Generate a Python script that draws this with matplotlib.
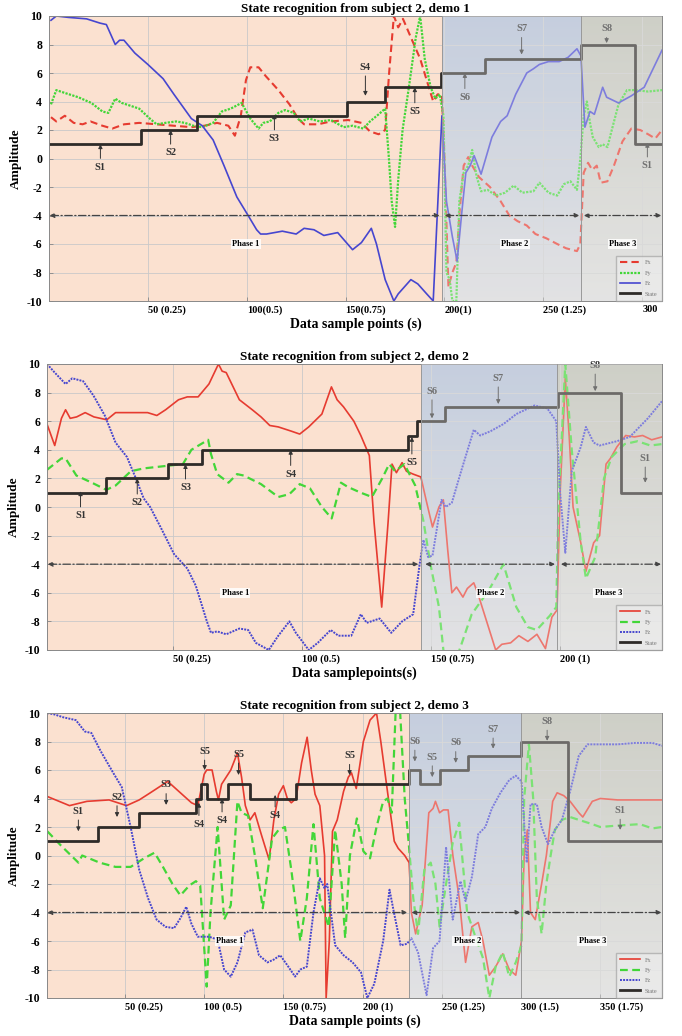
import numpy as np
import matplotlib
matplotlib.use("Agg")
import matplotlib.pyplot as plt
from matplotlib.transforms import ScaledTranslation

plt.rcParams['font.family'] = ['Liberation Serif', 'DejaVu Serif']
plt.rcParams['font.weight'] = 'bold'
plt.rcParams['axes.titleweight'] = 'bold'
plt.rcParams['axes.labelweight'] = 'bold'

# ---------------- demo 1 ----------------
d1_title = "State recognition from subject 2, demo 1"
d1_xlabel = "Data sample points (s)"
d1_xlim = (0, 310)
d1_phase = [198.7, 269]
d1_xticks = [50, 100, 150, 200, 250, 300]
d1_xticklabels = ["50 (0.25)", "100(0.5)", "150(0.75)", "200(1)", "250 (1.25)", "300"]
d1_fx_x = [1, 3.7, 8, 12.5, 17, 21, 27, 32, 38, 45.6, 54.4, 63, 72, 78.6, 85, 90.7, 94, 97, 99.6, 101.8,
           106, 109.5, 116, 121.6, 126, 129, 136, 142.5, 151.3, 158, 162.3, 166.7, 170, 172, 174.4, 176.6,
           179, 183, 187.7, 191, 194.3, 196.5, 198.7, 200, 202, 204, 206, 207.5, 209.7, 212, 214, 217.4,
           223, 228.4, 232.8, 237, 241.6, 246, 251.5, 257, 261.5, 267, 268.7, 270.4, 272.6, 274.7, 277,
           279, 282.4, 285.7, 290, 294.5, 299, 303, 306.6, 310]
d1_fx_y = [2.9, 2.6, 3.0, 2.5, 2.4, 2.6, 2.3, 2.1, 2.4, 2.5, 2.4, 2.3, 2.2, 2.3, 2.5, 2.3, 1.6, 3.0, 5.5, 6.4,
           6.4, 5.8, 4.8, 3.8, 2.8, 2.4, 2.4, 2.6, 2.7, 2.5, 1.9, 1.7, 2.0, 6.0, 10.0, 9.2,
           9.8, 8.5, 7.0, 5.5, 4.0, 4.5, 4.5, 0.0, -9.0, -8.0, -7.3, -4.0, -0.5, 0.1, -0.5, -1.3,
           -2.0, -3.0, -4.0, -4.4, -4.7, -5.3, -5.6, -6.0, -6.3, -6.5, -6.0, -1.0, -0.3, -0.8, -0.5,
           -1.7, -1.6, -0.5, 1.2, 2.1, 2.0, 1.7, 1.4, 2.0]
d1_fy_x = [1, 3.7, 8, 14.8, 21.4, 27, 30, 33.5, 36.8, 45.6, 51, 54.4, 58.8, 64.3, 68.7, 73, 77.5, 83, 87.4,
           91.9, 97.4, 101.8, 106, 108.4, 111.7, 116, 119.4, 123.8, 127, 131.5, 137, 142.5, 149, 153.5,
           159, 162.3, 166.7, 170, 171.9, 173.3, 175, 176.6, 178.8, 182, 185.5, 187.7, 190, 193, 195.4,
           197.6, 199.5, 201, 202.6, 204, 206, 207.5, 209.7, 212, 214, 216.3, 218.5, 221.8, 226, 230.6,
           235, 239.4, 245, 248, 252.6, 257, 260.4, 263.7, 267, 268.7, 270.4, 272, 273.6, 275, 278, 280,
           282.4, 284.6, 288, 292.3, 296.7, 303, 310]
d1_fy_y = [3.8, 4.8, 4.6, 4.3, 3.9, 3.3, 3.2, 4.2, 3.9, 3.5, 2.8, 2.4, 2.5, 2.6, 2.5, 2.3, 2.2, 2.5, 3.3,
           3.5, 3.9, 2.8, 2.1, 2.5, 2.6, 3.2, 3.4, 3.2, 2.6, 2.8, 2.6, 2.7, 2.2, 2.3,
           2.1, 2.6, 3.1, 3.5, 0.0, -3.0, -4.8, -1.5, 2.0, 5.0, 8.5, 10.0, 7.0, 5.0, 4.2,
           4.5, 3.0, -8.0, -8.5, -10.0, -10.0, -3.0, -1.0, -0.5, 0.6, -1.3, -2.3, -2.2, -2.6, -2.4,
           -1.9, -2.4, -2.3, -1.7, -2.4, -2.6, -1.8, -1.6, -2.2, 0.0, 3.0, 4.0, 2.5, 1.5, 0.8, 1.0,
           0.8, 2.0, 3.8, 4.8, 4.8, 4.7, 4.8]
d1_fz_x = [1, 3.7, 10, 19, 25.8, 29, 33.5, 35.7, 37.9, 43.4, 50, 57.7, 63.2, 72, 77.5, 83, 88.5, 95, 100.7,
           105, 107, 110, 118, 125, 129, 134, 139, 146, 153.5, 158, 163, 165.6, 170, 174.4, 176.6, 183,
           186.5, 191, 194.3, 198.7, 201, 204, 206.4, 208.6, 210.8, 213, 215, 218.5, 224, 228.4, 231.7,
           236, 241.6, 245, 248, 252.6, 258, 262.5, 267, 269, 271, 273.6, 275.8, 280, 282, 288, 294.5,
           301, 310]
d1_fz_y = [9.7, 10.0, 9.9, 9.8, 9.5, 9.4, 8.0, 8.3, 8.3, 7.4, 6.6, 5.6, 4.5, 2.8, 2.3, 1.3, -0.5, -2.7, -4.0,
           -5.0, -5.3, -5.3, -5.1, -5.3, -4.9, -5.0, -5.4, -5.2, -6.4, -5.9, -4.9, -6.0, -8.5, -10.0, -9.5, -8.5,
           -8.8, -9.5, -10.0, 3.0, -3.0, -5.5, -7.2, -4.0, -1.0, -0.5, 0.2, -1.1, 1.5, 2.6, 3.0,
           4.5, 6.0, 6.3, 6.6, 6.8, 6.8, 7.1, 7.7, 7.2, 2.2, 3.3, 3.1, 5.0, 4.3, 3.9, 4.4,
           5.0, 7.6]
d1_state_x = [0, 46.7, 74.7, 150.7, 170, 198, 220.7, 269, 296.3, 310]
d1_state_lv = [1, 2, 3, 4, 5, 6, 7, 8, 1]
d1_marks = [("S1", 26, -0.6, 1.0), ("S2", 61.5, 0.4, 2.0), ("S3", 114, 1.4, 3.1),
            ("S4", 160, 6.4, 4.4), ("S5", 185, 3.3, 5.0), ("S6", 210.3, 4.3, 6.0),
            ("S7", 239, 9.1, 7.3), ("S8", 282, 9.1, 8.1), ("S1", 302.6, -0.5, 1.1)]
d1_phase_lab = [99.5, 235.7, 290]

# ---------------- demo 2 ----------------
d2_title = "State recognition from subject 2, demo 2"
d2_xlabel = "Data samplepoints(s)"
d2_xlim = (1, 239.5)
d2_phase = [146.2, 198.8]
d2_xticks = [50, 100, 150, 200]
d2_xticklabels = ["50 (0.25)", "100 (0.5)", "150 (0.75)", "200 (1)"]
d2_fx_x = [1.2, 4, 6.6, 8.2, 10, 12.5, 15.8, 19.2, 24.2, 27.6, 33.5, 40, 43.6, 47, 52, 55.4, 59.6, 63.8, 67.5,
           68.9, 70.5, 75.6, 80.6, 84, 87.4, 90.7, 95.8, 99, 102.5, 107.6, 111.3, 113.5, 116, 120, 122.7,
           126, 127.8, 130.8, 133.3, 134.8, 136.5, 138.7, 140.4, 143, 146, 148, 150.5, 153, 154.7, 156.4,
           158, 159.8, 162.3, 164, 166.5, 168, 171.5, 175, 177.4, 180.8, 184, 187.5, 191, 194.3, 196.8,
           198.8, 200, 202, 203.5, 205, 208, 210, 213, 215.3, 217.8, 219.5, 222, 225.4, 228.8, 232, 235.5,
           239.5]
d2_fx_y = [5.7, 4.3, 6.2, 6.8, 6.2, 6.3, 6.6, 6.3, 6.1, 6.6, 6.6, 6.6, 6.4, 6.8, 7.5, 7.7, 7.7, 8.6, 10.0,
           9.5, 9.4, 7.5, 6.8, 6.3, 5.7, 5.6, 5.3, 5.1, 5.6, 6.5, 8.4, 7.5, 7.0, 6.0, 5.0,
           3.6, -1.0, -7.0, -1.0, 3.0, 2.4, 3.1, 2.5, 2.3, 2.1, 0.5, -1.4, 0.0, 0.5, -3.0,
           -6.0, -5.6, -6.3, -5.7, -5.3, -6.0, -8.0, -10.0, -9.6, -9.5, -9.0, -9.4, -8.9, -9.9, -7.7,
           -7.2, 1.0, 9.0, 5.0, 0.0, -2.5, -4.5, -2.5, -2.0, 3.0, 3.4, 4.2, 5.0, 4.9, 5.0, 4.7,
           4.9]
d2_fy_x = [1, 6.6, 8.2, 12.4, 18.4, 24, 27.6, 33.5, 38.5, 48.6, 53.7, 57, 63.5, 64.6, 67, 71.4, 74.7, 77.3,
           84, 90.7, 95, 99, 103, 107.6, 111.4, 115, 117.7, 122.7, 127, 131, 133.7, 136, 139.6, 143.8,
           147, 149.7, 153, 155, 160, 165.7, 172.4, 178, 183, 187.5, 190.9, 196, 198.5, 199.3, 202, 204.5,
           208, 210, 213.6, 217, 220, 225, 230, 235, 239.5]
d2_fy_y = [2.6, 3.4, 3.4, 2.2, 1.7, 1.2, 1.5, 2.5, 2.7, 2.9, 3.0, 4.0, 4.7, 3.7, 2.3, 1.7, 2.3, 2.2,
           1.6, 0.7, 0.9, 1.6, 1.3, 0.0, -0.8, 1.7, 1.4, 1.0, 0.7, 2.0, 3.0, 2.5, 3.0, 1.5,
           -1.0, -4.0, -7.0, -10.5, -10.5, -7.5, -5.8, -4.0, -7.0, -8.4, -8.6, -7.6, -7.0, 0.0, 10.0, 4.0,
           -2.5, -5.0, -3.5, 2.0, 3.5, 4.4, 4.6, 4.3, 4.4]
d2_fz_x = [1, 4, 8.2, 10.8, 15, 19, 23.4, 27.6, 32, 35, 38.5, 41, 45.3, 50.3, 55.4, 58.7, 63, 64.6, 67, 70.5,
           75.6, 79, 82, 87, 90.7, 95, 97.5, 102.5, 106, 111, 114, 119, 122.7, 125, 130, 134.5, 138.7,
           143, 145.5, 147, 148.8, 150.5, 154, 155.6, 158, 161.6, 166.5, 169, 173, 178, 183, 190, 195,
           198.5, 200, 202, 204.5, 208, 210, 213, 215.3, 222, 227, 234, 239.5]
d2_fz_y = [10.0, 9.4, 8.6, 9.0, 8.8, 7.8, 6.4, 4.5, 3.5, 2.2, 0.6, 0.0, -1.5, -3.3, -4.3, -5.5, -8.0, -8.8, -8.7, -8.9,
           -8.5, -8.6, -9.5, -10.0, -9.0, -8.0, -8.8, -10.0, -9.5, -8.6, -9.0, -9.0, -7.5, -8.1, -7.8, -8.8, -8.0,
           -7.5, -4.0, -2.3, -3.5, -3.4, 0.5, 0.0, 0.3, 2.5, 5.4, 5.0, 5.3, 5.8, 6.5, 7.1, 6.9,
           6.0, 1.0, -3.2, 2.5, 4.2, 5.6, 4.5, 4.3, 4.6, 4.9, 6.2, 7.4]
d2_state_x = [1, 24, 48, 61, 141, 144.5, 155.5, 199.2, 223.6, 239.5]
d2_state_lv = [1, 2, 3, 4, 5, 6, 7, 8, 1]
d2_marks = [("S1", 14, -0.6, 1.1), ("S2", 36, 0.3, 2.0), ("S3", 54.7, 1.35, 3.0),
            ("S4", 95.5, 2.3, 4.0), ("S5", 142.5, 3.1, 4.9), ("S6", 150.3, 8.1, 6.2),
            ("S7", 176, 9.0, 7.2), ("S8", 213.6, 9.9, 8.1), ("S1", 233, 3.4, 1.7)]
d2_phase_lab = [74, 173, 218.7]

# ---------------- demo 3 ----------------
d3_title = "State recognition from subject 2, demo 3"
d3_xlabel = "Data sample points (s)"
d3_xlim = (0.8, 389)
d3_phase = [229.4, 300.3]
d3_xticks = [50, 100, 150, 200, 250, 300, 350]
d3_xticklabels = ["50 (0.25)", "100 (0.5)", "150 (0.75)", "200 (1)", "250 (1.25)", "300 (1.5)", "350 (1.75)"]
d3_fx_x = [0.8, 15, 26, 40, 51, 59, 66, 77, 84, 92, 96, 100, 101.6, 105, 107.7, 109, 111, 116.8, 121, 123.6,
           126, 129, 132, 136, 141, 144, 147, 150, 152.5, 155, 158, 161.5, 165, 167.6, 170, 173, 176, 177,
           179, 181, 184, 188, 191, 193, 196, 200.5, 204.7, 208.8, 211.5, 215.7, 220, 222.5, 226.6, 229.4,
           230.8, 233.5, 237.6, 241.8, 244.5, 246, 248.6, 251, 254, 257, 261, 265, 269, 273, 276, 280,
           284, 288.5, 292.6, 296.7, 300.3, 302, 304, 306, 309, 313, 316, 318.7, 320, 322.8, 327, 331,
           336.5, 339, 345, 350, 361, 375, 389]
d3_fx_y = [4.15, 3.5, 3.8, 3.9, 3.5, 3.9, 4.4, 5.2, 4.5, 3.7, 3.5, 5.7, 6.0, 6.0, 4.5, 3.9, 5.0, 6.0, 7.2, 5.5,
           3.5, 2.5, 3.0, 1.5, -0.3, 2.5, 4.3, 4.9, 4.0, 3.7, 4.0, 6.5, 8.3, 6.0, 4.3, 3.5, 0.0, -10.0,
           -6.0, 1.7, 2.5, 4.5, 5.5, 5.8, 4.7, 8.0, 9.5, 10.0, 8.0, 4.5, 1.0, 0.5, 0.0, -0.5,
           -4.0, -5.5, -3.5, 3.0, 3.3, 3.8, 3.0, 3.2, 3.2, 0.0, -3.0, -7.5, -5.0, -4.7, -6.0, -8.4,
           -7.8, -6.9, -8.0, -8.4, -6.0, 0.0, 1.8, -4.0, -4.5, -2.0, 0.0, 2.5, 3.8, 4.4, 4.2, 3.8,
           3.0, 2.7, 3.8, 4.0, 3.9, 3.9, 3.9]
d3_fy_x = [1, 9.6, 20.6, 23, 34, 44, 53.6, 62, 68.7, 74, 80, 85, 90.7, 94.8, 97.5, 101.6, 104, 108.5, 112.6,
           116.8, 121, 123.6, 127.7, 132, 137, 142.9, 147, 151, 155, 160.7, 164.8, 169, 173, 178.6, 182.7,
           186.8, 189, 192, 196.4, 200.5, 204.7, 208.8, 213, 215.7, 218.4, 221, 223.5, 226.6, 229.4, 232,
           235, 239, 243, 246, 248.6, 252.7, 256.9, 261, 266, 270.6, 276, 280, 284, 288.5, 292.6, 296.7,
           300.3, 302, 305, 307.7, 310, 313, 316, 318.7, 321.4, 325.8, 331, 336.5, 345, 350, 361, 375,
           383, 389]
d3_fy_y = [1.7, 0.7, -0.5, 0.0, -0.5, -0.8, -0.8, -0.2, 0.2, -0.8, -2.0, -2.8, -2.1, -1.8, -2.1, -9.2, -4.0, 2.0, -4.5,
           -3.5, 3.8, 3.0, 2.8, 0.0, -3.7, 1.2, 1.8, 2.0, -1.0, -6.0, -3.0, 2.2, -3.0, -5.0, 1.8,
           -2.0, -5.8, 0.0, 2.6, 0.3, -0.2, 2.0, 3.8, 4.0, 3.0, 10.5, 10.5, 4.0, 0.5, -3.0,
           -5.5, -1.0, -0.5, -2.0, -5.0, -2.0, 0.9, 2.3, -4.0, -5.5, -7.2, -10.0, -7.8, -6.8, -8.5, -7.5,
           -6.3, 4.0, 7.8, 4.0, -3.0, -5.5, -2.0, 0.0, 1.8, 2.5, 2.7, 2.5, 2.2, 2.0, 2.1, 2.2,
           1.9, 2.0]
d3_fz_x = [1, 5.5, 11, 19, 24.7, 28.8, 34.3, 42.6, 48, 53.6, 59, 64.6, 70, 75.5, 81, 85, 88.7, 92, 96, 103,
           108.5, 112.6, 116.8, 121, 126, 130.5, 134.6, 140, 144, 148, 152.5, 157.4, 160.7, 164.8, 169,
           173, 176, 177.7, 180, 182.7, 188, 193.7, 199, 203, 207.4, 213, 217, 219.8, 224, 228, 230.8,
           235, 240.4, 244.5, 248.6, 252.7, 256.9, 259.6, 261.8, 265, 269, 273, 277.5, 281.6, 287, 292.6,
           296.7, 300.3, 303.6, 306, 310, 313, 317, 321.4, 325.8, 331, 336.5, 342, 350, 361, 372, 383,
           389]
d3_fz_y = [10.0, 9.9, 9.7, 9.5, 8.7, 8.6, 7.4, 5.8, 4.8, 2.0, -1.0, -3.0, -4.5, -5.0, -5.1, -4.4, -3.6, -4.8, -5.7, -5.7,
           -5.9, -8.0, -8.5, -7.5, -5.4, -5.2, -7.0, -7.5, -7.3, -7.0, -7.7, -8.5, -8.0, -7.8, -4.0,
           -1.6, -2.3, -2.0, -4.0, -6.3, -7.0, -7.5, -8.2, -10.0, -9.0, -6.0, -2.4, -4.0, -6.3, -6.2, -5.8,
           -6.8, -9.8, -6.5, -6.0, 0.6, -4.5, -3.0, -1.8, -3.2, -1.5, 1.5, 2.0, 3.3, 4.4, 5.3,
           5.6, 5.2, -0.5, 3.6, 3.6, 2.0, 0.8, 1.8, 2.5, 4.5, 7.0, 7.8, 7.8, 7.8, 7.9, 7.9,
           7.7]
d3_state_x = [0.8, 33, 59, 95, 98, 101.5, 114.8, 129, 158, 229.4, 236, 248.6, 266.5, 300.3, 329.7, 389]
d3_state_lv = [1, 2, 3, 4, 5, 4, 5, 4, 5, 6, 5, 6, 7, 8, 1]
d3_marks = [("S1", 20.6, 3.1, 1.7), ("S2", 45, 4.1, 2.7), ("S3", 76, 4.95, 3.55),
            ("S4", 96.7, 2.2, 3.7), ("S5", 100.3, 7.3, 6.0), ("S4", 111.3, 2.45, 4.0),
            ("S5", 121.7, 7.1, 5.65), ("S4", 144.8, 2.8, 4.25), ("S5", 191.8, 7.0, 5.65),
            ("S6", 233, 8.0, 6.6), ("S5", 244, 6.9, 5.5), ("S6", 258.8, 7.9, 6.5),
            ("S7", 282.4, 8.85, 7.5), ("S8", 316.5, 9.4, 8.05), ("S1", 362.6, 3.15, 1.8)]
d3_phase_lab = [116, 266, 345]

fig = plt.figure(figsize=(6.82, 10.36), dpi=100)
W, H = 682.0, 1036.0


def gradient(ax, x0, x1, top, bot):
    g = np.linspace(0, 1, 64)[:, None]
    img = np.zeros((64, 1, 3))
    for k in range(3):
        img[:, 0, k] = top[k] + (bot[k] - top[k]) * g[:, 0]
    ax.imshow(img, extent=[x0, x1, -10, 10], aspect='auto', origin='upper',
              zorder=0.1, interpolation='bilinear')


def panel(rect, title, xlabel, xlim, phase, xticks, xticklabels,
          fx, fy, fz, state_x, state_lv, marks, phase_lab, styles):
    l, t, r, b = rect
    ax = fig.add_axes([l / W, 1 - b / H, (r - l) / W, (b - t) / H])
    x0, x1 = xlim
    # backgrounds
    ax.axvspan(x0, phase[0], color='#fbe1d0', zorder=0, lw=0)
    gradient(ax, phase[0], phase[1], (0.68, 0.73, 0.82), (0.84, 0.84, 0.845))
    gradient(ax, phase[1], x1, (0.73, 0.735, 0.69), (0.85, 0.85, 0.845))

    fxs, fys, fzs = styles
    l1, = ax.plot(fx[0], fx[1], label='Fx', zorder=2, **fxs)
    l2, = ax.plot(fy[0], fy[1], label='Fy', zorder=2, **fys)
    l3, = ax.plot(fz[0], fz[1], label='Fz', zorder=2, **fzs)
    l4, = ax.step(state_x, state_lv + [state_lv[-1]], where='post', color='#2e2b28',
                  lw=2.0, label='State', zorder=2.2)

    # state marks
    for lab, x, ty, tip in marks:
        ax.annotate(lab, xy=(x, tip), xytext=(x, ty), ha='center', va='center',
                    fontsize=7.5, color='#333333', zorder=2.3,
                    arrowprops=dict(arrowstyle='-|>', color='#333333', lw=0.7,
                                    mutation_scale=6, shrinkA=1, shrinkB=0))

    # washed overlay on phase 2 and 3
    ax.axvspan(phase[0], x1, color='white', alpha=0.3, zorder=3, lw=0)
    for p in phase:
        ax.axvline(p, color='#999999', lw=0.7, zorder=3.1)

    # phase arrows
    spans = [(x0 + 0.3, phase[0] - 1.2), (phase[0] + 1.5, phase[1] - 0.8), (phase[1] + 1.5, x1 - 0.4)]
    for (a, bb), xl, name in zip(spans, phase_lab, ["Phase 1", "Phase 2", "Phase 3"]):
        ax.annotate('', xy=(bb, -4), xytext=(a, -4), zorder=4,
                    arrowprops=dict(arrowstyle='<|-|>', color='#444444', lw=0.9,
                                    linestyle=(0, (6, 2, 1, 2)), mutation_scale=7,
                                    shrinkA=0, shrinkB=0))
        ax.text(xl, -6, name, ha='center', va='center', fontsize=6, color='black', zorder=4,
                bbox=dict(boxstyle='square,pad=0.15', fc='white', ec='none', alpha=0.85))

    ax.set_xlim(x0, x1)
    ax.set_ylim(-10, 10)
    ax.set_yticks(np.arange(-10, 11, 2))
    ax.set_yticklabels([str(v) for v in range(-10, 11, 2)], fontsize=8.5)
    ax.set_xticks(xticks)
    ax.set_xticklabels(xticklabels, fontsize=7.5)
    for lab, txt in zip(ax.get_xticklabels(), xticklabels):
        num = txt.split('(')[0].strip()
        w = len(num) * 0.5 * 7.5
        lab.set_ha('left')
        lab.set_transform(lab.get_transform() + ScaledTranslation(-w / 2 / 72, 0, fig.dpi_scale_trans))
    ax.tick_params(direction='in', length=3, width=0.5, color='#777777', pad=3)
    ax.tick_params(axis='y', pad=5)
    ax.grid(True, color='#c9c9c9', lw=0.6)
    ax.set_axisbelow(True)
    for s in ax.spines.values():
        s.set_color('#888888')
        s.set_linewidth(0.7)
    ax.set_title(title, fontsize=9.5, pad=3)
    ax.set_xlabel(xlabel, fontsize=10, labelpad=2)
    ax.set_ylabel("Amplitude", fontsize=9.5, labelpad=3)
    leg = ax.legend(handles=[l1, l2, l3, l4], loc='lower right', fontsize=4.5, borderaxespad=0,
                    handlelength=3.2, labelspacing=0.8, borderpad=0.7, fancybox=False,
                    edgecolor='#999999', framealpha=0.6, facecolor='#eeeeee')
    leg.set_zorder(6)
    for tx in leg.get_texts():
        tx.set_color('#777777')
        tx.set_fontweight('normal')
    return ax


red, green, blue = '#e63b30', '#42d638', '#4646cf'
st1 = (dict(color=red, lw=1.5, linestyle=(0, (3.5, 2))),
       dict(color=green, lw=1.6, linestyle=(0, (1, 0.6))),
       dict(color=blue, lw=1.2, linestyle='-'))
st23 = (dict(color=red, lw=1.2, linestyle='-'),
        dict(color=green, lw=1.6, linestyle=(0, (3.5, 2))),
        dict(color=blue, lw=1.4, linestyle=(0, (1, 0.6))))

panel((49, 16, 662, 301), d1_title, d1_xlabel, d1_xlim, d1_phase, d1_xticks, d1_xticklabels,
      (d1_fx_x, d1_fx_y), (d1_fy_x, d1_fy_y), (d1_fz_x, d1_fz_y),
      d1_state_x, d1_state_lv, d1_marks, d1_phase_lab, st1)
panel((47, 364, 662, 650), d2_title, d2_xlabel, d2_xlim, d2_phase, d2_xticks, d2_xticklabels,
      (d2_fx_x, d2_fx_y), (d2_fy_x, d2_fy_y), (d2_fz_x, d2_fz_y),
      d2_state_x, d2_state_lv, d2_marks, d2_phase_lab, st23)
panel((47, 713, 662, 998), d3_title, d3_xlabel, d3_xlim, d3_phase, d3_xticks, d3_xticklabels,
      (d3_fx_x, d3_fx_y), (d3_fy_x, d3_fy_y), (d3_fz_x, d3_fz_y),
      d3_state_x, d3_state_lv, d3_marks, d3_phase_lab, st23)

fig.savefig("out.png", dpi=100)
